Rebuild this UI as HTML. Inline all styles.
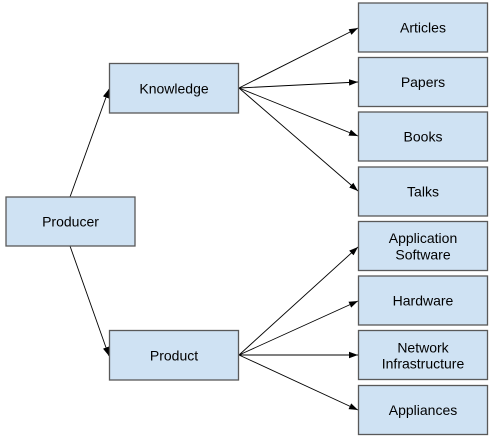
<!DOCTYPE html>
<html><head><style>
html,body{margin:0;padding:0;background:#fff;width:493px;height:440px;overflow:hidden}
svg{display:block}
text{font-family:"Liberation Sans",Arial,sans-serif;font-size:14px;fill:#000;text-anchor:middle}
rect{fill:#cfe2f3;stroke:#595959;stroke-width:1.3}
line{stroke:#000;stroke-width:0.9}
</style></head><body>
<svg width="493" height="440" viewBox="0 0 493 440">
<defs><marker id="a" markerWidth="10" markerHeight="8" refX="9" refY="4" orient="auto" markerUnits="userSpaceOnUse"><path d="M0,0.8 L9,4 L0,7.2 Z" fill="#000"/></marker></defs>
<line x1="70" y1="197" x2="109" y2="89" marker-end="url(#a)"/>
<line x1="70" y1="246" x2="109" y2="356" marker-end="url(#a)"/>
<line x1="239" y1="88" x2="358" y2="28" marker-end="url(#a)"/>
<line x1="239" y1="88" x2="358" y2="82" marker-end="url(#a)"/>
<line x1="239" y1="88" x2="358" y2="136" marker-end="url(#a)"/>
<line x1="239" y1="88" x2="358" y2="191" marker-end="url(#a)"/>
<line x1="239" y1="355" x2="358" y2="247" marker-end="url(#a)"/>
<line x1="239" y1="355" x2="358" y2="301" marker-end="url(#a)"/>
<line x1="239" y1="355" x2="358" y2="355" marker-end="url(#a)"/>
<line x1="239" y1="355" x2="358" y2="410" marker-end="url(#a)"/>
<rect x="6" y="197" width="129" height="49"/><text x="70.5" y="226.5">Producer</text>
<rect x="109.5" y="63.5" width="129" height="49.5"/><text x="174" y="93.5">Knowledge</text>
<rect x="109.5" y="330.5" width="129" height="49.5"/><text x="174" y="360.5">Product</text>
<rect x="358.5" y="3" width="129" height="49"/><text x="423" y="32.5">Articles</text>
<rect x="358.5" y="57.5" width="129" height="49"/><text x="423" y="87">Papers</text>
<rect x="358.5" y="112" width="129" height="49"/><text x="423" y="141.5">Books</text>
<rect x="358.5" y="167" width="129" height="49"/><text x="423" y="196.5">Talks</text>
<rect x="358.5" y="221.5" width="129" height="49"/><text x="423" y="243">Application</text><text x="423" y="259.5">Software</text>
<rect x="358.5" y="276" width="129" height="49"/><text x="423" y="305.5">Hardware</text>
<rect x="358.5" y="330.5" width="129" height="49"/><text x="423" y="352.5">Network</text><text x="423" y="368.5">Infrastructure</text>
<rect x="358.5" y="385.5" width="129" height="49"/><text x="423" y="415">Appliances</text>
</svg>
</body></html>
